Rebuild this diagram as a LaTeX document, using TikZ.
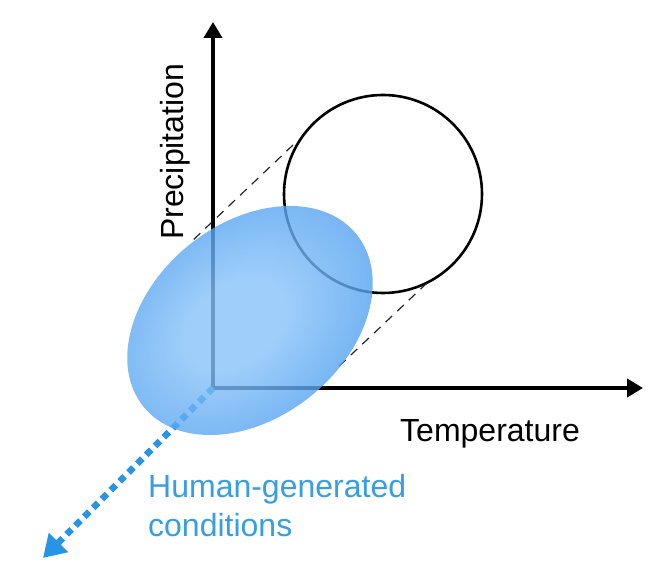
\documentclass[tikz,border=0pt]{standalone}
\usepackage{fontspec}
\setmainfont{Liberation Sans}
\usetikzlibrary{arrows.meta}
\definecolor{hgblue}{RGB}{40,148,230}
\definecolor{hgtext}{RGB}{55,158,228}
\definecolor{ellin}{RGB}{135,194,249}
\definecolor{ellmid}{RGB}{64,150,236}
\definecolor{ellout}{RGB}{5,112,218}
\pgfdeclareradialshading{ellshade}{\pgfpoint{-3bp}{2bp}}{color(0bp)=(ellin); color(10bp)=(ellin); color(34bp)=(ellmid); color(48bp)=(ellout); color(60bp)=(ellout)}
\begin{document}
\begin{tikzpicture}[x=1pt,y=1pt,
  axis/.style={line width=4.8pt,line join=miter,{Triangle[width=18pt,length=16pt]}-{Triangle[width=18pt,length=16pt]}},
  proj/.style={line width=1.2pt,dash pattern=on 9pt off 7pt,black!85},
  lbl/.style={font=\fontsize{32}{38}\selectfont,inner sep=0pt},
  human/.style={line width=6.5pt,hgblue,dash pattern=on 7pt off 5.5pt,-{Triangle[width=26pt,length=22pt]}}]
\useasboundingbox (0,0) rectangle (667,584);
\coordinate (O) at (213,196);
\coordinate (ytip) at (213,562);
\coordinate (xtip) at (643,196);
\coordinate (htip) at (43,26);
\draw[axis] (ytip) -- (O) -- (xtip);
\node[circle,draw,line width=2.6pt,minimum size=198pt,inner sep=0pt] (nat) at (383,390) {};
\coordinate (c1) at (293,439);
\coordinate (c2) at (427,301);
\coordinate (e1) at (190,341);
\coordinate (e2) at (335,214);
\draw[proj] (c1) -- (e1);
\draw[proj] (c2) -- (e2);
\draw[human] (O) -- (htip);
\begin{scope}[transform canvas={shift={(250,263.5)},rotate=39}]
\shade[shading=ellshade,opacity=0.8] (0,0) ellipse [x radius=137,y radius=97];
\end{scope}
\node[lbl,rotate=90,anchor=base west] (prec) at (183,344) {Precipitation};
\node[lbl,anchor=base west] (temp) at (400,142) {Temperature};
\node[lbl,text=hgtext,anchor=base west] (hg1) at (148,86) {Human-generated};
\node[lbl,text=hgtext,anchor=base west] (hg2) at (148,47) {conditions};
\end{tikzpicture}
\end{document}
